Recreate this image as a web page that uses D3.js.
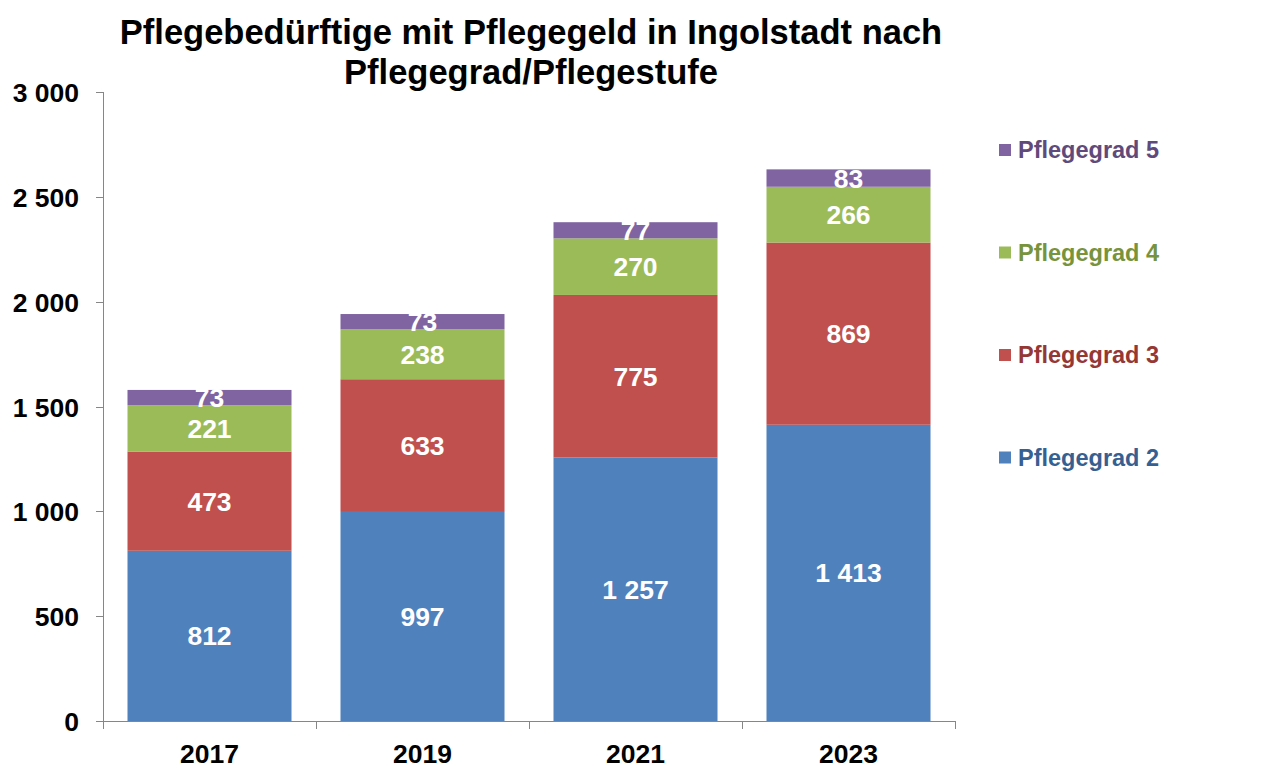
<!DOCTYPE html>
<html>
<head>
    <meta charset="utf-8">
    <title>Pflegebedürftige mit Pflegegeld</title>
    <script src="https://d3js.org/d3.v7.min.js"></script>
    <style>
        body { margin: 0; background: #fff; }
        svg text { font-family: "Liberation Sans", Arial, sans-serif; font-weight: bold; }
        .axis path, .axis line { stroke: #868686; fill: none; shape-rendering: crispEdges; }
        .axis text { font-size: 26.5px; fill: #000; }
    </style>
</head>
<body>
<svg id="chart"></svg>
<script>
    // data
    var years = ["2017", "2019", "2021", "2023"];
    var grad2 = [812, 997, 1257, 1413];
    var grad3 = [473, 633, 775, 869];
    var grad4 = [221, 238, 270, 266];
    var grad5 = [73, 73, 77, 83];
    var seriesNames = ["Pflegegrad 2", "Pflegegrad 3", "Pflegegrad 4", "Pflegegrad 5"];
    var yTicks = [0, 500, 1000, 1500, 2000, 2500, 3000];

    var barColors = ["#4F81BD", "#C0504D", "#9BBB59", "#8064A2"];
    var legendText = ["#376092", "#953735", "#77933C", "#604A7B"];

    var W = 1262, H = 775;
    var margin = { top: 92, left: 103, right: 307, bottom: 54 };
    var width = W - margin.left - margin.right,
        height = H - margin.top - margin.bottom;

    var svg = d3.select("#chart").attr("width", W).attr("height", H);

    // title
    svg.append("text")
        .attr("x", 531).attr("y", 44)
        .attr("text-anchor", "middle")
        .style("font-size", "34.5px")
        .text("Pflegebedürftige mit Pflegegeld in Ingolstadt nach");
    svg.append("text")
        .attr("x", 531).attr("y", 84)
        .attr("text-anchor", "middle")
        .style("font-size", "34.5px")
        .text("Pflegegrad/Pflegestufe");

    var g = svg.append("g")
        .attr("transform", "translate(" + margin.left + "," + margin.top + ")");

    var rows = years.map(function(y, i) {
        return { year: y, g2: grad2[i], g3: grad3[i], g4: grad4[i], g5: grad5[i] };
    });
    var keys = ["g2", "g3", "g4", "g5"];
    var stacked = d3.stack().keys(keys)(rows);

    var x = d3.scaleBand()
        .domain(years)
        .range([0, width])
        .paddingInner(0.23)
        .paddingOuter(0.115);

    var y = d3.scaleLinear()
        .domain([0, 3000])
        .range([height, 0]);

    var fmt = function(v) { return d3.format(",")(v).replace(/,/g, " "); };

    // y axis
    g.append("g")
        .attr("class", "axis")
        .call(d3.axisLeft(y).tickValues(yTicks).tickSize(7).tickPadding(17).tickFormat(fmt))
        .call(function(a) { a.select(".domain").attr("d", "M0,0V" + height); })
        .selectAll("text").attr("dy", "0.36em");

    // bars
    var layer = g.selectAll(".layer")
        .data(stacked)
        .enter().append("g")
        .attr("fill", function(d, i) { return barColors[i]; });

    layer.selectAll("rect")
        .data(function(d) { return d; })
        .enter().append("rect")
        .attr("x", function(d) { return x(d.data.year); })
        .attr("y", function(d) { return y(d[1]); })
        .attr("width", x.bandwidth())
        .attr("height", function(d) { return y(d[0]) - y(d[1]); });

    // value labels
    layer.selectAll("text")
        .data(function(d) { return d.map(function(p) { p.key = d.key; return p; }); })
        .enter().append("text")
        .attr("x", function(d) { return x(d.data.year) + x.bandwidth() / 2; })
        .attr("y", function(d) { return (y(d[0]) + y(d[1])) / 2; })
        .attr("dy", "0.36em")
        .attr("text-anchor", "middle")
        .attr("fill", "#fff")
        .style("font-size", "26.5px")
        .text(function(d) { return fmt(d.data[d.key]); });

    // x axis with ticks between categories
    var xa = g.append("g")
        .attr("class", "axis")
        .attr("transform", "translate(0," + height + ")");
    xa.append("line").attr("x1", 0).attr("x2", width);
    var bounds = d3.range(years.length + 1).map(function(i) { return i * width / years.length; });
    xa.selectAll(".tk").data(bounds).enter().append("line")
        .attr("x1", function(d) { return d; }).attr("x2", function(d) { return d; })
        .attr("y1", 0).attr("y2", 8);
    xa.selectAll(".lbl").data(years).enter().append("text")
        .attr("x", function(d) { return x(d) + x.bandwidth() / 2; })
        .attr("y", 42)
        .attr("text-anchor", "middle")
        .text(function(d) { return d; });

    // legend (top to bottom: Pflegegrad 5 .. 2)
    var legendOrder = [3, 2, 1, 0];
    var leg = svg.append("g").attr("transform", "translate(999,150)");
    legendOrder.forEach(function(si, j) {
        var row = leg.append("g").attr("transform", "translate(0," + (j * 102.5) + ")");
        row.append("rect").attr("x", 0).attr("y", -6).attr("width", 12).attr("height", 12)
            .attr("fill", barColors[si]);
        row.append("text").attr("x", 19).attr("y", 0).attr("dy", "0.36em")
            .attr("fill", legendText[si])
            .style("font-size", "23.5px")
            .text(seriesNames[si]);
    });
</script>
</body>
</html>
